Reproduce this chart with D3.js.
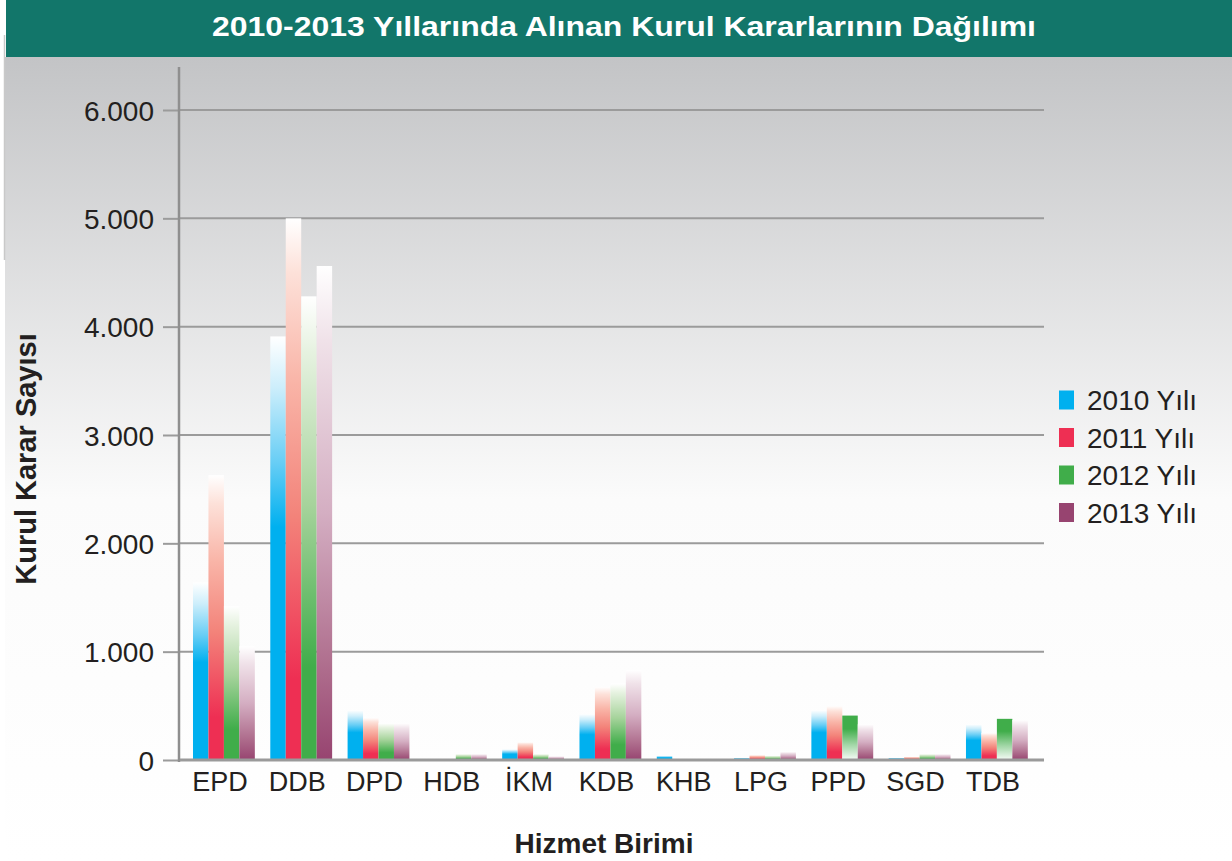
<!DOCTYPE html>
<html>
<head>
<meta charset="utf-8">
<script src="https://d3js.org/d3.v7.min.js"></script>
<style>
  html, body { margin: 0; padding: 0; background: #fff; }
  svg { display: block; font-family: "Liberation Sans", Arial, Helvetica, sans-serif; }
</style>
</head>
<body>
<svg id="chart" width="1232" height="861"></svg>
<script>
// kurul kararlari, hizmet birimine gore
const categories = ['EPD', 'DDB', 'DPD', 'HDB', 'İKM', 'KDB', 'KHB', 'LPG', 'PPD', 'SGD', 'TDB'];
const years = ['2010 Yılı', '2011 Yılı', '2012 Yılı', '2013 Yılı'];
const values2010 = [1640, 3910, 460, 0, 100, 425, 40, 20, 460, 20, 330];
const values2011 = [2630, 5000, 390, 0, 165, 675, 0, 45, 500, 30, 250];
const values2012 = [1420, 4280, 340, 55, 55, 705, 0, 40, 410, 55, 380];
const values2013 = [1050, 4560, 340, 55, 35, 830, 0, 75, 330, 55, 370];
const yTicks = [0, 1000, 2000, 3000, 4000, 5000, 6000];

const title = '2010-2013 Yıllarında Alınan Kurul Kararlarının Dağılımı';
const xTitle = 'Hizmet Birimi';
const yTitle = 'Kurul Karar Sayısı';

const seriesValues = [values2010, values2011, values2012, values2013];
const colors = ['#00b0ef', '#ee2f53', '#40ad4a', '#974470'];
// fade stops per series: [offset, colour]
const fades = [
  [[0, '#ffffff'], [0.12, '#cdeefb'], [0.3, '#66cdf5'], [0.45, '#00b0ef']],
  [[0, '#ffffff'], [0.1, '#fde1d9'], [0.3, '#f9b5a8'], [0.55, '#f3837a'], [0.85, '#ee2f53']],
  [[0, '#ffffff'], [0.12, '#e6f2e0'], [0.45, '#a6d39b'], [0.8, '#40ad4a']],
  [[0, '#ffffff'], [0.15, '#f0e2e9'], [0.5, '#d4aec2'], [0.8, '#b0708f'], [1, '#974470']]
];
const flipped = [['PPD', 2], ['TDB', 2]];     // green bars drawn with the fade reversed

const data = [];
categories.forEach(function (c, i) {
  years.forEach(function (y, j) {
    data.push({ cat: c, year: y, s: j, value: seriesValues[j][i] });
  });
});

const svg = d3.select('#chart');
const defs = svg.append('defs');

// background panel gradient
const bg = defs.append('linearGradient').attr('id', 'bg')
  .attr('x1', 0).attr('y1', 0).attr('x2', 0).attr('y2', 1);
bg.append('stop').attr('offset', 0).attr('stop-color', '#c3c4c6');
bg.append('stop').attr('offset', 0.55).attr('stop-color', '#fbfbfb');
bg.append('stop').attr('offset', 1).attr('stop-color', '#ffffff');

colors.forEach(function (col, j) {
  const mix = d3.interpolateRgb('#ffffff', col);
  const g = defs.append('linearGradient').attr('id', 'bar' + j)
    .attr('x1', 0).attr('y1', 0).attr('x2', 0).attr('y2', 1);
  fades[j].forEach(function (s) {
    g.append('stop').attr('offset', s[0]).attr('stop-color', s[1]);
  });
  g.append('stop').attr('offset', 1).attr('stop-color', col);

  const f = defs.append('linearGradient').attr('id', 'barflip' + j)
    .attr('x1', 0).attr('y1', 1).attr('x2', 0).attr('y2', 0);
  f.append('stop').attr('offset', 0).attr('stop-color', mix(0.04));
  f.append('stop').attr('offset', 0.35).attr('stop-color', mix(0.5));
  f.append('stop').attr('offset', 0.7).attr('stop-color', col);
  f.append('stop').attr('offset', 1).attr('stop-color', col);
});

svg.append('rect')
  .attr('x', 5).attr('y', 57).attr('width', 1227).attr('height', 804)
  .attr('fill', 'url(#bg)');

svg.append('line')
  .attr('x1', 4.5).attr('x2', 4.5).attr('y1', 35).attr('y2', 260)
  .attr('stroke', '#c9c9c9').attr('stroke-width', 1.5);

// title bar
svg.append('rect')
  .attr('x', 6).attr('y', 0).attr('width', 1226).attr('height', 57)
  .attr('fill', '#12766a');

svg.append('text')
  .attr('x', 212).attr('y', 36)
  .attr('fill', '#ffffff')
  .attr('font-size', 27)
  .attr('font-weight', 'bold')
  .attr('textLength', 824)
  .attr('lengthAdjust', 'spacingAndGlyphs')
  .text(title);

// scales
const x = d3.scaleBand()
  .domain(categories)
  .range([181.4, 1039.4])
  .paddingInner(0.2)
  .paddingOuter(0.15);

const xs = d3.scaleBand()
  .domain(years)
  .range([0, x.bandwidth()]);

const y = d3.scaleLinear()
  .domain([0, 6000])
  .range([760, 110]);

const trFormat = d3.formatLocale({ decimal: ',', thousands: '.', grouping: [3], currency: ['', ''] }).format(',');

// grid lines
svg.append('g')
  .selectAll('line')
  .data(yTicks.filter(function (d) { return d > 0; }))
  .enter().append('line')
  .attr('x1', 180).attr('x2', 1044)
  .attr('y1', function (d) { return y(d); })
  .attr('y2', function (d) { return y(d); })
  .attr('stroke', '#9b9b9b')
  .attr('stroke-width', 2);

// bars
svg.append('g')
  .selectAll('rect')
  .data(data)
  .enter().append('rect')
  .attr('x', function (d) { return x(d.cat) + xs(d.year); })
  .attr('width', xs.bandwidth())
  .attr('y', function (d) { return y(d.value); })
  .attr('height', function (d) { return y(0) - y(d.value); })
  .attr('fill', function (d) {
    const flip = flipped.some(function (f) { return f[0] === d.cat && f[1] === d.s; });
    return flip ? 'url(#barflip' + d.s + ')' : 'url(#bar' + d.s + ')';
  });

// y axis
const yAxis = svg.append('g')
  .attr('transform', 'translate(180,0)')
  .call(d3.axisLeft(y).tickValues(yTicks).tickFormat(trFormat).tickSize(17).tickPadding(9));

yAxis.select('.domain').remove();
yAxis.selectAll('.tick line').attr('stroke', '#9b9b9b').attr('stroke-width', 2);
yAxis.selectAll('.tick text')
  .attr('fill', '#231f20')
  .attr('font-size', 28)
  .attr('font-family', '"Liberation Sans", Arial, sans-serif')
  .attr('dy', '0.36em');

svg.append('line')
  .attr('x1', 179).attr('x2', 179).attr('y1', 67).attr('y2', 762)
  .attr('stroke', '#8f8f8f').attr('stroke-width', 2.5);

// x axis
const xAxis = svg.append('g')
  .attr('transform', 'translate(0,760)')
  .call(d3.axisBottom(x).tickSize(0).tickPadding(0));

xAxis.select('.domain')
  .attr('d', 'M180,0H1044')
  .attr('stroke', '#9a9a9a').attr('stroke-width', 3);
xAxis.selectAll('.tick text')
  .attr('fill', '#231f20')
  .attr('font-size', 27)
  .attr('font-family', '"Liberation Sans", Arial, sans-serif')
  .attr('dy', 0)
  .attr('x', -4)
  .attr('y', 31);

// axis titles
svg.append('text')
  .attr('x', 604).attr('y', 853)
  .attr('text-anchor', 'middle')
  .attr('font-size', 28)
  .attr('font-weight', 'bold')
  .attr('fill', '#231f20')
  .text(xTitle);

svg.append('text')
  .attr('transform', 'translate(36,459) rotate(-90)')
  .attr('text-anchor', 'middle')
  .attr('font-size', 29)
  .attr('font-weight', 'bold')
  .attr('fill', '#231f20')
  .text(yTitle);

// legend
const legend = svg.append('g')
  .selectAll('g')
  .data(years)
  .enter().append('g')
  .attr('transform', function (d, i) { return 'translate(1059,' + (400 + i * 37.5) + ')'; });

legend.append('rect')
  .attr('x', 0).attr('y', -9.5)
  .attr('width', 15).attr('height', 19)
  .attr('fill', function (d, i) { return colors[i]; });

legend.append('text')
  .attr('x', 28).attr('y', 10)
  .attr('font-size', 28)
  .attr('fill', '#231f20')
  .text(function (d) { return d; });
</script>
</body>
</html>
